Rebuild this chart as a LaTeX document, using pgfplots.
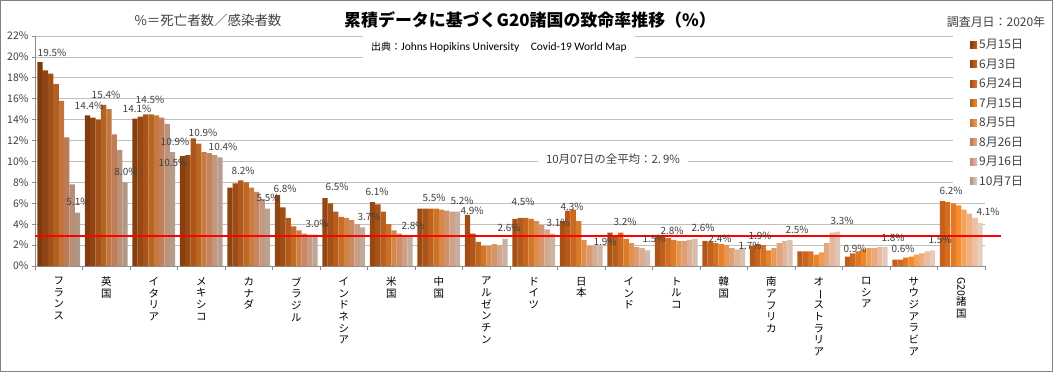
\documentclass[border=0pt]{standalone}
\usepackage{fontspec}
\setmainfont{Noto Sans CJK JP}
\newfontfamily\latinfont{Carlito}
\usepackage{graphicx}
\usepackage{pgfplots}
\usepackage{pgfplotstable}
\pgfplotsset{compat=1.18}

\definecolor{cA}{HTML}{C4621C}\definecolor{dA}{HTML}{7E3A0E}
\definecolor{cB}{HTML}{D66C1E}\definecolor{dB}{HTML}{8E4312}
\definecolor{cC}{HTML}{E57A26}\definecolor{dC}{HTML}{A0501A}
\definecolor{cD}{HTML}{F58C2E}\definecolor{dD}{HTML}{B06020}
\definecolor{cE}{HTML}{F6A35A}\definecolor{dE}{HTML}{C0743C}
\definecolor{cF}{HTML}{F0AE82}\definecolor{dF}{HTML}{BC7A56}
\definecolor{cG}{HTML}{EEC0A2}\definecolor{dG}{HTML}{B88E76}
\definecolor{cH}{HTML}{E9CEBF}\definecolor{dH}{HTML}{AE9686}
\definecolor{txt}{HTML}{404040}
\definecolor{redline}{HTML}{FF0000}

% rows: France, UK, Italy, Mexico, Canada, Brazil, Indonesia, US, China, Argentina,
% Germany, Japan, India, Turkey, Korea, South Africa, Australia, Russia, Saudi Arabia, G20
\pgfplotstableread{
x  a    b    c    d    e    f    g    h
0  19.5 18.7 18.4 17.4 15.8 12.3 7.8  5.1
1  14.4 14.2 14.0 15.4 15.0 12.6 11.1 8.0
2  14.1 14.3 14.5 14.5 14.4 14.2 13.6 10.9
3  10.5 10.6 12.2 11.7 10.9 10.8 10.6 10.4
4  7.5  7.9  8.2  8.0  7.5  7.1  6.4  5.5
5  6.8  5.6  4.6  3.8  3.4  3.1  3.0  3.0
6  6.5  6.0  5.2  4.7  4.6  4.4  4.0  3.7
7  6.1  5.9  5.2  4.0  3.4  3.1  2.9  2.8
8  5.5  5.5  5.5  5.5  5.4  5.3  5.2  5.2
9  4.9  3.1  2.3  1.9  1.9  2.1  2.0  2.6
10 4.5  4.6  4.6  4.5  4.3  3.9  3.5  3.1
11 4.3  5.3  5.4  4.3  2.5  1.9  1.9  1.9
12 3.2  2.8  3.2  2.6  2.2  1.8  1.7  1.5
13 2.8  2.8  2.7  2.5  2.4  2.4  2.5  2.6
14 2.4  2.3  2.2  2.1  2.0  1.7  1.6  1.7
15 1.9  2.1  2.0  1.5  1.7  2.2  2.4  2.5
16 1.4  1.4  1.4  1.1  1.3  2.2  3.2  3.3
17 0.9  1.2  1.4  1.6  1.7  1.7  1.8  1.8
18 0.6  0.6  0.8  0.9  1.1  1.2  1.4  1.5
19 6.2  6.1  6.0  5.8  5.4  5.0  4.6  4.1
}\data

\pgfplotstableread{
x     y
-0.5  2.9
19.84 2.9
}\avgline

\newcommand\vbar{\rotatebox[origin=c]{-90}{ー}}
\newcommand\rotG{\rotatebox[origin=c]{-90}{G20}}

\pgfplotsset{mybar/.style={ybar, bar width=0.113, draw=none, bar shift=#1}}

\begin{document}
\begin{tikzpicture}[x=1bp,y=1bp]
\useasboundingbox (0,0) rectangle (1053,372);
\begin{axis}[
  at={(35bp,106bp)}, anchor=south west,
  scale only axis, width=950bp, height=230bp,
  xmin=-0.5, xmax=19.5, ymin=0, ymax=22,
  clip=false,
  axis x line*=bottom, axis y line*=left,
  axis line style={draw=black!45, line width=0.8bp},
  ytick={0,2,...,22},
  yticklabel={\pgfmathprintnumber{\tick}\%},
  /pgf/number format/assume math mode=true,
  yticklabel style={font=\fontsize{10.5}{12}\selectfont, text=txt},
  ymajorgrids, grid style={draw=black!25, line width=0.8bp},
  tick align=outside,
  major tick length=3bp, minor tick length=4bp,
  ytick style={draw=black!45, line width=0.8bp},
  xtick={0,...,19},
  x tick style={draw=none},
  minor xtick={-0.5,0.5,...,19.5},
  minor x tick style={draw=black!45, line width=0.8bp},
  xticklabels={{フ\\ラ\\ン\\ス},{英\\国},{イ\\タ\\リ\\ア},{メ\\キ\\シ\\コ},{カ\\ナ\\ダ},{ブ\\ラ\\ジ\\ル},{イ\\ン\\ド\\ネ\\シ\\ア},{米\\国},{中\\国},{ア\\ル\\ゼ\\ン\\チ\\ン},{ド\\イ\\ツ},{日\\本},{イ\\ン\\ド},{ト\\ル\\コ},{韓\\国},{南\\ア\\フ\\リ\\カ},{オ\\\vbar\\ス\\ト\\ラ\\リ\\ア},{ロ\\シ\\ア},{サ\\ウ\\ジ\\ア\\ラ\\ビ\\ア},{\rotG\\諸\\国}},
  xticklabel style={font=\fontsize{10.5}{11.7}\selectfont, align=center, anchor=north, inner sep=0pt, yshift=-8bp, text=black},
  legend style={at={(0.9663,1.013)}, anchor=north west, draw=none, fill=white,
    font=\fontsize{12}{13}\selectfont, text=txt, row sep=4.6bp, inner xsep=17bp, inner ysep=4bp},
  legend cell align=left,
  legend image code/.code={\path[#1] (0bp,-3.5bp) rectangle (7bp,3.5bp);},
]
\addplot[mybar=-0.3955, left color=dA, right color=cA] table[x=x,y=a]{\data};
\addplot[mybar=-0.2825, left color=dB, right color=cB] table[x=x,y=b]{\data};
\addplot[mybar=-0.1695, left color=dC, right color=cC] table[x=x,y=c]{\data};
\addplot[mybar=-0.0565, left color=dD, right color=cD] table[x=x,y=d]{\data};
\addplot[mybar=0.0565, left color=dE, right color=cE] table[x=x,y=e]{\data};
\addplot[mybar=0.1695, left color=dF, right color=cF] table[x=x,y=f]{\data};
\addplot[mybar=0.2825, left color=dG, right color=cG] table[x=x,y=g]{\data};
\addplot[mybar=0.3955, left color=dH, right color=cH] table[x=x,y=h]{\data};
\legend{5月15日,6月3日,6月24日,7月15日,8月5日,8月26日,9月16日,10月7日}
\addplot[sharp plot, mark=none, draw=redline, color=redline, line width=1.8bp, forget plot] table[x=x,y=y]{\avgline};
\end{axis}

% frame
\draw[black!50, line width=1bp] (0.5,0.5) rectangle (1052.5,371.5);

% titles
\node[font=\fontsize{17}{20}\selectfont\bfseries] at (530,352) {累積データに基づくG20諸国の致命率推移（\%）};
\node[font=\fontsize{13.5}{16}\selectfont, text=txt] at (208,352) {\%＝死亡者数／感染者数};
\node[font=\fontsize{12}{14}\selectfont, text=txt] at (996,350) {調査月日：2020年};
\node[fill=white, minimum width=272bp, minimum height=27bp, inner sep=0pt, font=\fontsize{10}{12}\selectfont, text=black] at (499,325) {出典：{\latinfont\fontsize{11.5}{12}\selectfont Johns Hopikins University\quad Covid-19 World Map}};
\node[fill=white, inner xsep=8bp, inner ysep=3bp, font=\fontsize{11.5}{13}\selectfont, text=txt] at (613,213) {10月07日の全平均：2.\,9\%};

% data labels
\tikzset{lbl/.style={font=\fontsize{10}{12}\selectfont, text=txt, inner sep=0pt}}
\foreach \t/\px/\py in {19.5/52/53, 14.4/89/106, 15.4/106/95, 14.1/137/109, 14.5/150/100,
  5.1/78/202, 8.0/126/172, 10.9/175/142, 10.5/173/163, 10.9/203/133, 10.4/223/147,
  8.2/243/171, 5.5/268/198, 6.8/285/189, 3.0/317/224, 6.5/337/187, 3.7/369/217,
  6.1/377/192, 2.8/413/226, 5.5/434/198, 5.2/462/201, 4.9/472/211, 2.6/509/228,
  4.5/523/202, 3.1/558/223, 4.3/572/207, 1.9/605/242, 3.2/625/222, 1.5/654/239,
  2.8/672/231, 2.6/703/228, 2.4/720/239, 1.7/750/246, 1.9/760/236, 2.5/797/230,
  3.3/842/221, 0.9/855/249, 1.8/893/238, 0.6/903/249, 1.5/940/240, 6.2/951/191, 4.1/988/212}
  {\node[lbl] at (\px,372-\py) {\t\%};}
\end{tikzpicture}
\end{document}
